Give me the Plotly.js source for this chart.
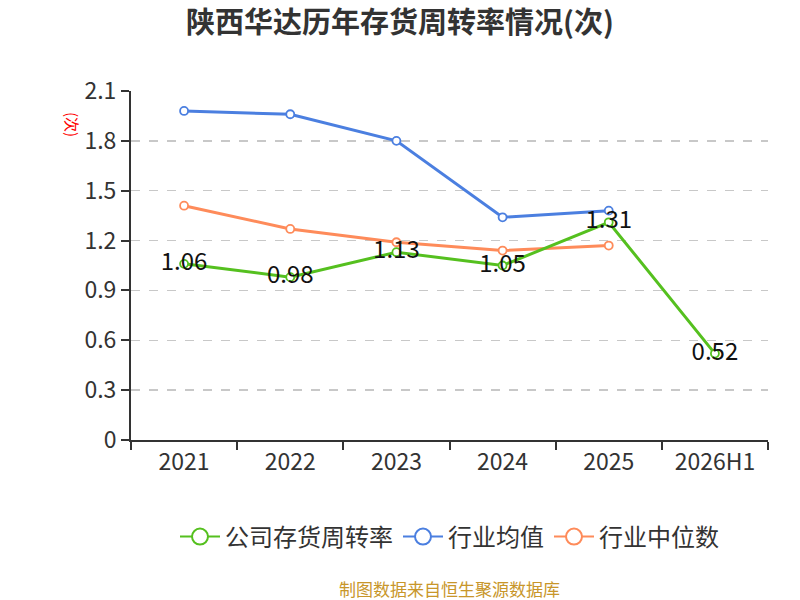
<!DOCTYPE html>
<html>
<head>
<meta charset="utf-8">
<script src="https://cdn.plot.ly/plotly-3.0.1.min.js"></script>
<style>
  body { margin: 0; background: #fff; }
  #chart { width: 800px; height: 600px; }
</style>
</head>
<body>
<div id="chart"></div>
<script>
// 年份与数据
const years = ['2021', '2022', '2023', '2024', '2025', '2026H1'];
const companyRate = [1.06, 0.98, 1.13, 1.05, 1.31, 0.52];
const industryAvg = [1.98, 1.96, 1.80, 1.34, 1.38, null];
const industryMedian = [1.41, 1.27, 1.19, 1.14, 1.17, null];
const yTicks = [0, 0.3, 0.6, 0.9, 1.2, 1.5, 1.8, 2.1];

const green = '#55c01f';
const blue = '#4b7fe0';
const orange = '#fe8b5a';
const font = '"Noto Sans CJK SC", "Noto Sans", sans-serif';

// 绘图区(像素)
const plotLeft = 131, plotRight = 768, plotTop = 91, plotBottom = 440;
const px2x = px => (px - plotLeft) / (plotRight - plotLeft);
const px2y = py => (plotBottom - py) / (plotBottom - plotTop);

function lineTrace(name, values, color, withText) {
    return {
        x: years,
        y: values,
        name: name,
        type: 'scatter',
        mode: withText ? 'lines+markers+text' : 'lines+markers',
        text: withText ? values.map(v => v.toFixed(2)) : undefined,
        textposition: 'middle center',
        textfont: { size: 24, color: '#111', family: font },
        line: { color: color, width: 3 },
        marker: { symbol: 'circle', size: 8, color: '#fff', line: { color: color, width: 1.8 } },
        showlegend: false,
        cliponaxis: false,
        hoverinfo: 'x+y'
    };
}

// 图例用的空系列(放大图例符号)
function legendTrace(name, color) {
    return {
        x: [null],
        y: [null],
        name: name,
        type: 'scatter',
        mode: 'lines+markers',
        line: { color: color, width: 2 },
        marker: { symbol: 'circle', size: 21, color: '#fff', line: { color: color, width: 2 } },
        showlegend: true
    };
}

const data = [
    lineTrace('行业均值', industryAvg, blue, false),
    lineTrace('行业中位数', industryMedian, orange, false),
    lineTrace('公司存货周转率', companyRate, green, true),
    legendTrace('公司存货周转率', green),
    legendTrace('行业均值', blue),
    legendTrace('行业中位数', orange)
];

const layout = {
    width: 800,
    height: 600,
    margin: { l: plotLeft, r: 800 - plotRight, t: plotTop, b: 600 - plotBottom },
    paper_bgcolor: '#fff',
    plot_bgcolor: '#fff',
    font: { family: font, color: '#333' },
    title: {
        text: '陕西华达历年存货周转率情况(次)',
        x: 0.5,
        xanchor: 'center',
        y: 0.962,
        yanchor: 'middle',
        font: { size: 29, color: '#333', family: font, weight: 'bold' }
    },
    xaxis: {
        type: 'category',
        range: [-0.5, 5.5],
        showline: true,
        linecolor: '#333',
        linewidth: 2,
        ticks: 'outside',
        tickson: 'boundaries',
        ticklen: 8,
        tickcolor: '#333',
        tickwidth: 2,
        showgrid: false,
        tickfont: { size: 23, color: '#333', family: font }
    },
    yaxis: {
        range: [0, 2.1],
        tickvals: yTicks,
        ticktext: yTicks.map(v => String(v)),
        showline: true,
        linecolor: '#333',
        linewidth: 2,
        ticks: 'outside',
        ticklen: 8,
        tickcolor: '#333',
        tickwidth: 2,
        showgrid: true,
        gridcolor: '#c8c8c8',
        griddash: 'dash',
        gridwidth: 1.5,
        zeroline: false,
        tickfont: { size: 23, color: '#333', family: font }
    },
    legend: {
        orientation: 'h',
        x: 0.5,
        xanchor: 'center',
        y: px2y(537),
        yanchor: 'middle',
        font: { size: 24, color: '#333', family: font },
        itemwidth: 40
    },
    annotations: [
        {
            text: '(次)',
            xref: 'paper', yref: 'paper',
            x: px2x(60), y: px2y(110),
            showarrow: false,
            textangle: 90,
            font: { size: 15, color: '#ff0000', family: font }
        },
        {
            text: '制图数据来自恒生聚源数据库',
            xref: 'paper', yref: 'paper',
            x: 0.5, y: px2y(588),
            xanchor: 'center', yanchor: 'middle',
            showarrow: false,
            font: { size: 17, color: '#c8962a', family: font }
        }
    ]
};

Plotly.newPlot('chart', data, layout, { displayModeBar: false, staticPlot: true });
</script>
</body>
</html>
